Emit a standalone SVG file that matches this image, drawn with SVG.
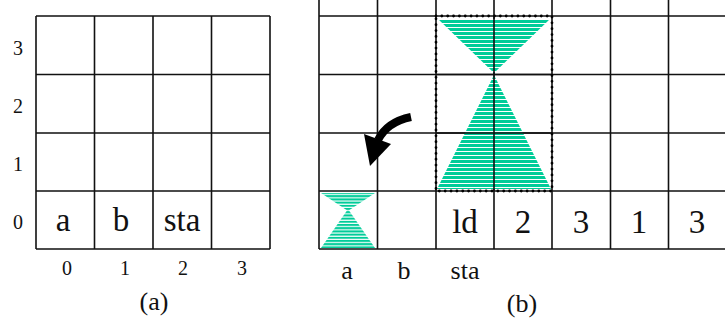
<svg xmlns="http://www.w3.org/2000/svg" width="725" height="326" viewBox="0 0 725 326">
<defs>
<pattern id="stripes" patternUnits="userSpaceOnUse" width="8" height="4">
<rect width="8" height="3" fill="#00cc99"/>
<rect y="3" width="8" height="1" fill="#ffffff"/>
</pattern>
<pattern id="stripes2" patternUnits="userSpaceOnUse" width="8" height="3.2">
<rect width="8" height="2.2" fill="#00cc99"/>
<rect y="2.2" width="8" height="1" fill="#ffffff"/>
</pattern>
</defs>
<style>
.grid{stroke:#111;stroke-width:1.6;fill:none}
.t{font-family:"Liberation Serif","DejaVu Serif",serif;fill:#111}
.cell{font-size:33px;text-anchor:middle}
.ax{font-size:20px;text-anchor:middle}
.lab{font-size:26px;text-anchor:middle}
.dot{stroke:#000;stroke-width:2.8;stroke-linecap:round;stroke-dasharray:0 5.85;fill:none}
</style>
<rect width="725" height="326" fill="#fff"/>

<g id="grid-a">
<path class="grid" d="M36 16H270M36 74.5H270M36 133H270M36 191H270M36 249H270M36 16V249M94.5 16V249M153 16V249M211.5 16V249M270 16V249"/>
</g>
<g id="labels-a" class="t">
<text class="ax" x="18" y="55">3</text>
<text class="ax" x="18" y="113">2</text>
<text class="ax" x="18" y="171">1</text>
<text class="ax" x="18" y="229">0</text>
<text class="ax" x="67" y="275">0</text>
<text class="ax" x="125" y="275">1</text>
<text class="ax" x="183" y="275">2</text>
<text class="ax" x="242" y="275">3</text>
<text class="cell" x="63" y="231">a</text>
<text class="cell" x="121" y="231">b</text>
<text class="cell" x="182" y="231">sta</text>
<text class="lab" x="154" y="310">(a)</text>
</g>

<g id="grid-b">
<path class="grid" d="M319 16H725M319 74.5H725M319 133H725M319 191H725M319 249H725M319 0V249M377.5 0V249M436 0V249M494 0V249M552 0V249M610.5 0V249M668.5 0V249"/>
</g>
<g id="hourglass-big">
<polygon points="438,19 550,19 494,73" fill="url(#stripes)"/>
<polygon points="494,75 437,189 551,189" fill="url(#stripes)"/>
<line x1="494" y1="16" x2="494" y2="191" stroke="#111" stroke-width="1.6"/>
<line x1="436" y1="74.5" x2="552" y2="74.5" stroke="#111" stroke-width="1.6"/>
<line x1="436" y1="133" x2="552" y2="133" stroke="#111" stroke-width="1.6"/>
<rect class="dot" x="436" y="16" width="116" height="175"/>
</g>
<g id="hourglass-small">
<polygon points="321,193 375,193 348,211" fill="url(#stripes2)"/>
<polygon points="348,209 321,248 375,248" fill="url(#stripes2)"/>
</g>
<g id="arrow">
<path d="M411 117 Q387 122 378 140" stroke="#000" stroke-width="8" fill="none"/>
<polygon points="370,166 364,134 391,144" fill="#000"/>
</g>
<g id="labels-b" class="t">
<text class="cell" x="465" y="233">ld</text>
<text class="cell" x="523" y="233">2</text>
<text class="cell" x="581" y="233">3</text>
<text class="cell" x="639" y="233">1</text>
<text class="cell" x="697" y="233">3</text>
<text class="lab" x="347" y="279">a</text>
<text class="lab" x="404" y="279">b</text>
<text class="lab" x="465" y="279">sta</text>
<text class="lab" x="522" y="312">(b)</text>
</g>
</svg>
